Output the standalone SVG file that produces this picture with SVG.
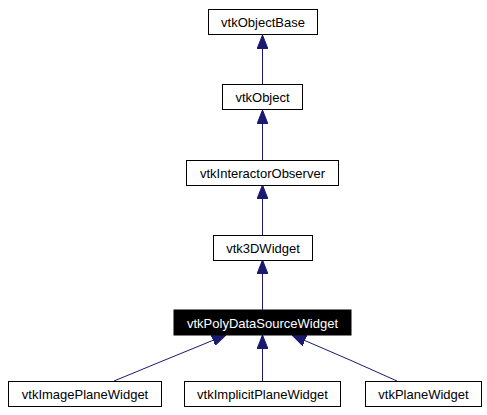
<svg xmlns="http://www.w3.org/2000/svg" width="487" height="415" viewBox="0 0 487 415">
<defs>
<marker id="ah" markerWidth="14" markerHeight="11" refX="14" refY="5.5" orient="auto" markerUnits="userSpaceOnUse">
<path d="M0,0 L14,5.5 L0,11 Z" fill="#191970" stroke="#191970"/>
</marker>
</defs>
<style>
.b{fill:#fff;stroke:#000;stroke-width:1}
.t{font-family:"Liberation Sans",Arial,sans-serif;font-size:13px;text-anchor:middle;fill:#000}
.e{stroke:#191970;stroke-width:1;fill:none;marker-end:url(#ah)}
</style>
<rect width="487" height="415" fill="#fff"/>
<g id="connectors">
<line class="e" x1="262.5" y1="84" x2="262.5" y2="35"/>
<line class="e" x1="262.5" y1="160" x2="262.5" y2="110"/>
<line class="e" x1="262.5" y1="235" x2="262.5" y2="185"/>
<line class="e" x1="262.5" y1="310" x2="262.5" y2="260"/>
<line class="e" x1="262.5" y1="381" x2="262.5" y2="335"/>
<polyline class="e" points="114,381 160,362 226,335"/>
<polyline class="e" points="397,381 350,360 292,335"/>
</g>
<g id="vtkObjectBase"><rect class="b" x="208.5" y="9.5" width="109" height="25"/><text class="t" x="263" y="27">vtkObjectBase</text></g>
<g id="vtkObject"><rect class="b" x="222.5" y="84.5" width="80" height="25"/><text class="t" x="262.5" y="102">vtkObject</text></g>
<g id="vtkInteractorObserver"><rect class="b" x="186.5" y="160.5" width="152" height="25"/><text class="t" x="262.5" y="178">vtkInteractorObserver</text></g>
<g id="vtk3DWidget"><rect class="b" x="213.5" y="235.5" width="99" height="25"/><text class="t" x="263" y="253">vtk3DWidget</text></g>
<g id="vtkPolyDataSourceWidget"><rect x="174" y="310" width="177" height="25" fill="#000" stroke="#000"/><text class="t" x="262.5" y="327.5" style="fill:#fff">vtkPolyDataSourceWidget</text></g>
<g id="vtkImagePlaneWidget"><rect class="b" x="8.5" y="381.5" width="153" height="25"/><text class="t" x="85" y="399">vtkImagePlaneWidget</text></g>
<g id="vtkImplicitPlaneWidget"><rect class="b" x="184.5" y="381.5" width="156" height="25"/><text class="t" x="262.5" y="399">vtkImplicitPlaneWidget</text></g>
<g id="vtkPlaneWidget"><rect class="b" x="365.5" y="381.5" width="116" height="25"/><text class="t" x="423.5" y="399">vtkPlaneWidget</text></g>
</svg>
